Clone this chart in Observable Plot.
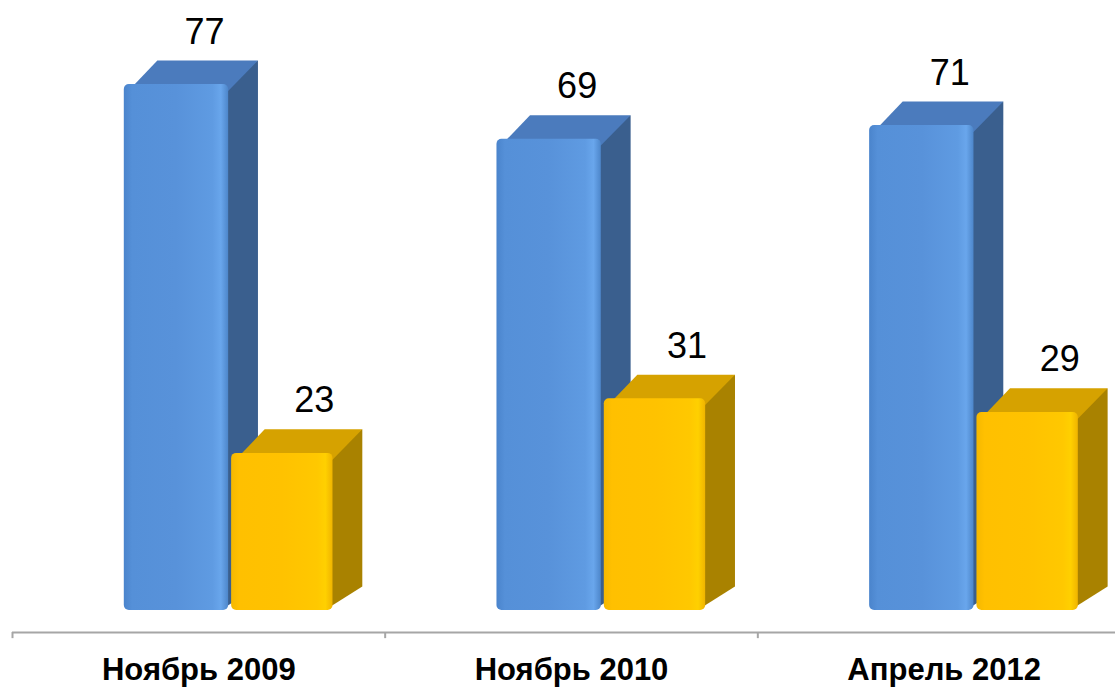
<!DOCTYPE html>
<html>
<head>
<meta charset="utf-8">
<script src="https://cdn.jsdelivr.net/npm/d3@7"></script>
<script src="https://cdn.jsdelivr.net/npm/@observablehq/plot@0.6"></script>
<style>
  html, body { margin: 0; padding: 0; background: #ffffff; }
  #chart svg { display: block; background: #ffffff; }
</style>
</head>
<body>
<div id="chart"></div>
<script>
// ---- data ----
const categories = ["Ноябрь 2009", "Ноябрь 2010", "Апрель 2012"];
const seriesBlue = [77, 69, 71];
const seriesGold = [23, 31, 29];

// ---- geometry (in band units / value units) ----
const depthX = 0.08;   // depth of bars, band units
const depthY = 3.45;   // depth of bars, value units
const axisLevel = -3.22;
const bars = [
  {values: seriesBlue, x0: 0.300, x1: 0.580, labelDx: 28, front: "url(#gBlue)", side: "#3A5F8E", top: "#4B7BBD"},
  {values: seriesGold, x0: 0.588, x1: 0.860, labelDx: 32, front: "url(#gGold)", side: "#A98200", top: "#D6A200"}
];

const marks = [];
// axis line and ticks
marks.push(Plot.ruleY([axisLevel], {x1: 0, x2: 3, stroke: "#A6A6A6", strokeWidth: 2}));
marks.push(Plot.ruleX([0, 1, 2, 3], {y1: axisLevel, y2: axisLevel - 0.9, stroke: "#A6A6A6", strokeWidth: 2}));

for (const s of bars) {
  const rows = s.values.map((v, i) => ({i, v, xl: i + s.x0, xr: i + s.x1}));
  const side = rows.flatMap(r => [
    {z: r.i, x: r.xr - 0.02, y1: 0, y2: r.v},
    {z: r.i, x: r.xr + depthX, y1: depthY, y2: r.v + depthY}
  ]);
  const top = rows.flatMap(r => [
    {z: r.i, y: r.v - 1, x1: r.xl + 0.012, x2: r.xr},
    {z: r.i, y: r.v + depthY, x1: r.xl + depthX + 0.01, x2: r.xr + depthX}
  ]);
  marks.push(Plot.areaY(side, {x: "x", y1: "y1", y2: "y2", z: "z", fill: s.side, curve: "linear"}));
  marks.push(Plot.areaX(top, {y: "y", x1: "x1", x2: "x2", z: "z", fill: s.top, curve: "linear"}));
  marks.push(Plot.rectY(rows, {x1: "xl", x2: "xr", y1: 0, y2: "v", fill: s.front, rx: 5}));
  marks.push(Plot.text(rows, {
    x: r => (r.xl + r.xr) / 2, y: "v", text: r => String(r.v),
    dx: s.labelDx, dy: -41, lineAnchor: "bottom", fontSize: 36, fill: "#000000"
  }));
}

// category labels
marks.push(Plot.text(categories, {
  x: (d, i) => i + 0.5, y: () => axisLevel, text: d => d,
  dy: 38, lineAnchor: "middle", fontSize: 31, fontWeight: "bold", fill: "#000000"
}));

const chart = Plot.plot({
  width: 1115,
  height: 687,
  style: {fontFamily: "'Liberation Sans', Arial, sans-serif", background: "#ffffff", overflow: "hidden"},
  x: {type: "linear", domain: [0, 3], range: [12, 1130], axis: null},
  y: {type: "linear", domain: [0, 100], range: [610, -73], axis: null},
  marks
});

// gradients for front faces
const svg = d3.select(chart);
const defs = svg.insert("defs", ":first-child");
function grad(id, stops) {
  const g = defs.append("linearGradient").attr("id", id)
    .attr("x1", "0").attr("y1", "0").attr("x2", "1").attr("y2", "0");
  for (const [o, c] of stops) g.append("stop").attr("offset", o).attr("stop-color", c);
}
grad("gBlue", [[0, "#4A84CC"], [0.08, "#5590D8"], [0.5, "#5892DA"], [0.85, "#5F9BE2"], [0.93, "#69A6EC"], [1, "#4D86CA"]]);
grad("gGold", [[0, "#F5B800"], [0.08, "#FFC000"], [0.5, "#FFC200"], [0.85, "#FFC800"], [0.93, "#FFD000"], [1, "#F0B400"]]);

document.getElementById("chart").appendChild(chart);
</script>
</body>
</html>
